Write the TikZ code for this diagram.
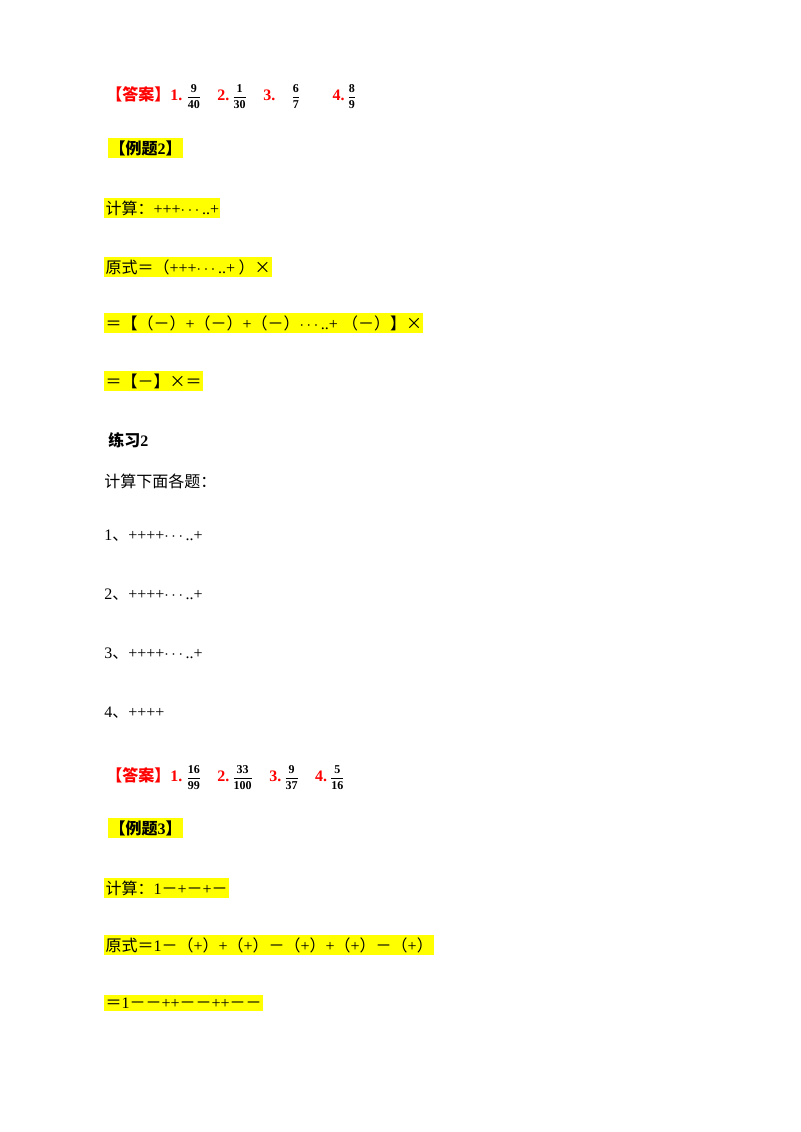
\documentclass[tikz,border=0pt]{standalone}
\usepackage{amsmath}
\usepackage{fontspec}
\setmainfont{Liberation Serif}
\newfontfamily\cjk{Noto Sans CJK SC}
\newcommand{\zh}[1]{{\cjk #1}}
\newcommand{\fr}[2]{{\small$\dfrac{\text{#1}}{\text{#2}}$}}
\definecolor{hl}{RGB}{255,255,0}
\definecolor{ans}{RGB}{255,0,0}
\begin{document}
\begin{tikzpicture}[x=0.75pt,y=-0.75pt,
  txt/.style={anchor=west,inner sep=0pt,font=\fontsize{12}{14}\selectfont},
  hlt/.style={txt,fill=hl,inner xsep=1pt,inner ysep=2pt},
  ansl/.style={txt,text=ans,font=\fontsize{12}{14}\selectfont\bfseries}]
\useasboundingbox (0,0) rectangle (800,1132);
% answer 1
\node[ansl] (a1) at (106,97) {\zh{【答案】}1.\ \textcolor{black}{\fr{9}{40}}\quad 2.\,\textcolor{black}{\fr{1}{30}}\quad 3.\quad\textcolor{black}{\fr{6}{7}}\qquad 4.\,\textcolor{black}{\fr{8}{9}}};
\node[hlt,font=\fontsize{12}{14}\selectfont\bfseries] (e2) at (108,148) {\zh{【例题}2\zh{】}};
\node[hlt] (l1) at (104,208) {\zh{计算：}+++$\cdots$..+};
\node[hlt] (l2) at (104,267) {\zh{原式＝（}+++$\cdots$..+\zh{ ）×}};
\node[hlt] (l3) at (104,323) {\zh{＝【（－）}+\zh{（－）}+\zh{（－）}$\cdots$..+\ \zh{（－）】×}};
\node[hlt] (l4) at (104,381) {\zh{＝【－】×＝}};
\node[txt,font=\fontsize{12}{14}\selectfont\bfseries] (p2) at (108,440) {\zh{练习}2};
\node[txt] (q0) at (104,481) {\zh{计算下面各题：}};
\node[txt] (q1) at (104,536) {1\zh{、}++++$\cdots$..+};
\node[txt] (q2) at (104,595) {2\zh{、}++++$\cdots$..+};
\node[txt] (q3) at (104,654) {3\zh{、}++++$\cdots$..+};
\node[txt] (q4) at (104,713) {4\zh{、}++++};
% answer 2
\node[ansl] (a2) at (106,778) {\zh{【答案】}1.\ \textcolor{black}{\fr{16}{99}}\quad 2.\,\textcolor{black}{\fr{33}{100}}\quad 3.\,\textcolor{black}{\fr{9}{37}}\quad 4.\,\textcolor{black}{\fr{5}{16}}};
\node[hlt,font=\fontsize{12}{14}\selectfont\bfseries] (e3) at (108,828) {\zh{【例题}3\zh{】}};
\node[hlt] (m1) at (104,888) {\zh{计算：}1\zh{－}+\zh{－}+\zh{－}};
\node[hlt] (m2) at (104,945) {\zh{原式＝}1\zh{－（}+\zh{）}+\zh{（}+\zh{）－（}+\zh{）}+\zh{（}+\zh{）－（}+\zh{）}};
\node[hlt] (m3) at (104,1003) {\zh{＝}1\zh{－－}++\zh{－－}++\zh{－－}};
\end{tikzpicture}
\end{document}
